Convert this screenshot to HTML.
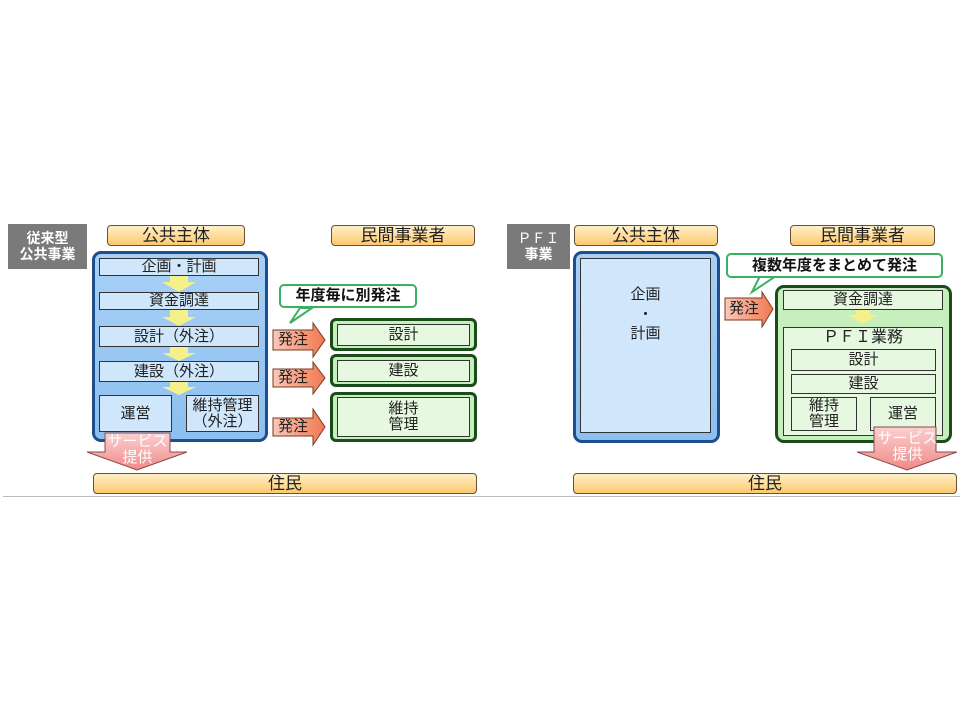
<!DOCTYPE html>
<html><head><meta charset="utf-8"><style>
body{margin:0;width:960px;height:720px;background:#fff;position:relative;overflow:hidden;font-family:"Liberation Sans","Noto Sans CJK JP",sans-serif;}
.a{position:absolute;box-sizing:border-box;display:flex;align-items:center;justify-content:center;text-align:center;line-height:1.05;color:#222;}
.hdr{background:linear-gradient(#fff0c8,#fcc870);border:1.5px solid #6a5030;border-radius:4px;font-size:17px;}
.lab{background:#7a7a7a;color:#fff;font-weight:bold;font-size:14px;line-height:1.1;}
.blue{background:linear-gradient(#a8d0f6,#8cc0f0);border:3px solid #1f4f8a;border-radius:9px;}
.bi{background:#cfe6fb;border:1.5px solid #333;font-size:15px;}
.green{background:#c6efbd;border:3px solid #1b4d1b;border-radius:6px;}
.gi{background:#e6f8e0;border:1.5px solid #333;font-size:15px;}
.bub{background:#fff;border:2px solid #3cb060;border-radius:5px;font-weight:bold;font-size:15px;color:#111;}
.o{font-size:15px;}
</style></head><body>
<div style="position:absolute;left:3px;top:496px;width:957px;height:1px;background:#bbb"></div>
<svg width="0" height="0" style="position:absolute">
<defs>
<linearGradient id="pk" x1="0" y1="0" x2="0" y2="1"><stop offset="0" stop-color="#fbd0d0"/><stop offset="1" stop-color="#f08a88"/></linearGradient>
<linearGradient id="or" x1="0" y1="0" x2="1" y2="0"><stop offset="0" stop-color="#fbc8b8"/><stop offset="1" stop-color="#f07850"/></linearGradient>
</defs>
</svg>
<!-- LEFT -->
<div class="a lab" style="left:8px;top:224px;width:79px;height:45px;">従来型<br>公共事業</div>
<div class="a hdr" style="left:107px;top:225px;width:138px;height:21px;">公共主体</div>
<div class="a hdr" style="left:331px;top:225px;width:144px;height:21px;">民間事業者</div>
<div class="a blue" style="left:92px;top:251px;width:176px;height:191px;"></div>
<svg width="960" height="720" style="position:absolute;left:0;top:0">
<g fill="#f4f08a">
<polygon points="170,276 188,276 188,282 196,282 179,292 162,282 170,282"/>
<polygon points="170,310 188,310 188,317 196,317 179,326 162,317 170,317"/>
<polygon points="170,347 188,347 188,353 196,353 179,361 162,353 170,353"/>
<polygon points="170,382 188,382 188,387 196,387 179,395 162,387 170,387"/>
</g>
</svg>
<div class="a bi" style="left:99px;top:258px;width:160px;height:18px;">企画・計画</div>
<div class="a bi" style="left:99px;top:292px;width:160px;height:18px;">資金調達</div>
<div class="a bi" style="left:99px;top:326px;width:160px;height:21px;">設計（外注）</div>
<div class="a bi" style="left:99px;top:361px;width:160px;height:21px;">建設（外注）</div>
<div class="a bi" style="left:99px;top:395px;width:73px;height:37px;">運営</div>
<div class="a bi" style="left:186px;top:395px;width:73px;height:37px;">維持管理<br>（外注）</div>
<svg width="960" height="720" style="position:absolute;left:0;top:0">
<polygon points="105,433 170,433 170,452 187,452 137,470 87,452 105,452" fill="url(#pk)" stroke="#8a4a4a" stroke-width="1"/>
<polygon points="290,323 300,308 312,308" fill="#fff" stroke="#3cb060" stroke-width="2"/>
<g fill="url(#or)" stroke="#7a3a20" stroke-width="1">
<polygon points="273,330 313,330 313,323 325,340 313,357 313,350 273,350"/>
<polygon points="273,369 313,369 313,362 325,378 313,394 313,387 273,387"/>
<polygon points="273,418 313,418 313,409 325,427 313,445 313,436 273,436"/>
<polygon points="725,298 762,298 762,292 773,309 762,327 762,320 725,320"/>
</g>
<polygon points="752,292 760,276 776,276" fill="#fff" stroke="#3cb060" stroke-width="2"/>
</svg>
<div class="a" style="left:90px;top:432px;width:95px;height:36px;font-size:15px;color:#fff;">サービス<br>提供</div>
<div class="a bub" style="left:279px;top:284px;width:138px;height:24px;">年度毎に別発注</div>
<div class="a o" style="left:273px;top:330px;width:40px;height:20px;">発注</div>
<div class="a o" style="left:273px;top:369px;width:40px;height:18px;">発注</div>
<div class="a o" style="left:273px;top:418px;width:40px;height:18px;">発注</div>
<div class="a green" style="left:330px;top:318px;width:147px;height:33px;"><div class="a gi" style="position:relative;width:133px;height:22px;">設計</div></div>
<div class="a green" style="left:330px;top:354px;width:147px;height:33px;"><div class="a gi" style="position:relative;width:133px;height:22px;">建設</div></div>
<div class="a green" style="left:330px;top:392px;width:147px;height:50px;"><div class="a gi" style="position:relative;width:133px;height:40px;">維持<br>管理</div></div>
<div class="a hdr" style="left:93px;top:473px;width:384px;height:21px;">住民</div>
<!-- RIGHT -->
<div class="a lab" style="left:507px;top:224px;width:63px;height:45px;font-weight:normal;"><span>ＰＦＩ<br><b>事業</b></span></div>
<div class="a hdr" style="left:574px;top:225px;width:144px;height:21px;">公共主体</div>
<div class="a hdr" style="left:790px;top:225px;width:145px;height:21px;">民間事業者</div>
<div class="a blue" style="left:573px;top:251px;width:147px;height:192px;"></div>
<div class="a bi" style="left:580px;top:258px;width:131px;height:175px;align-items:flex-start;padding-top:26px;line-height:1.3;">企画<br>・<br>計画</div>
<div class="a bub" style="left:726px;top:253px;width:217px;height:25px;">複数年度をまとめて発注</div>
<div class="a o" style="left:725px;top:299px;width:38px;height:20px;">発注</div>
<div class="a green" style="left:775px;top:285px;width:177px;height:158px;border-radius:9px;"></div>
<svg width="960" height="720" style="position:absolute;left:0;top:0"><polygon points="856,310 870,310 870,315 878,315 863,324 848,315 856,315" fill="#f4f08a"/></svg>
<div class="a gi" style="left:783px;top:290px;width:160px;height:20px;">資金調達</div>
<div class="a gi" style="left:783px;top:327px;width:160px;height:109px;align-items:flex-start;padding-top:2px;font-size:16px;">ＰＦＩ業務</div>
<div class="a gi" style="left:791px;top:349px;width:145px;height:22px;">設計</div>
<div class="a gi" style="left:791px;top:374px;width:145px;height:20px;">建設</div>
<div class="a gi" style="left:791px;top:397px;width:66px;height:34px;">維持<br>管理</div>
<div class="a gi" style="left:870px;top:397px;width:66px;height:34px;">運営</div>
<svg width="960" height="720" style="position:absolute;left:0;top:0"><polygon points="874,427 936,427 936,452 957,452 907,470 857,452 874,452" fill="url(#pk)" stroke="#8a4a4a" stroke-width="1"/></svg>
<div class="a" style="left:860px;top:430px;width:95px;height:34px;font-size:15px;color:#fff;">サービス<br>提供</div>
<div class="a hdr" style="left:573px;top:473px;width:384px;height:21px;">住民</div>
</body></html>
